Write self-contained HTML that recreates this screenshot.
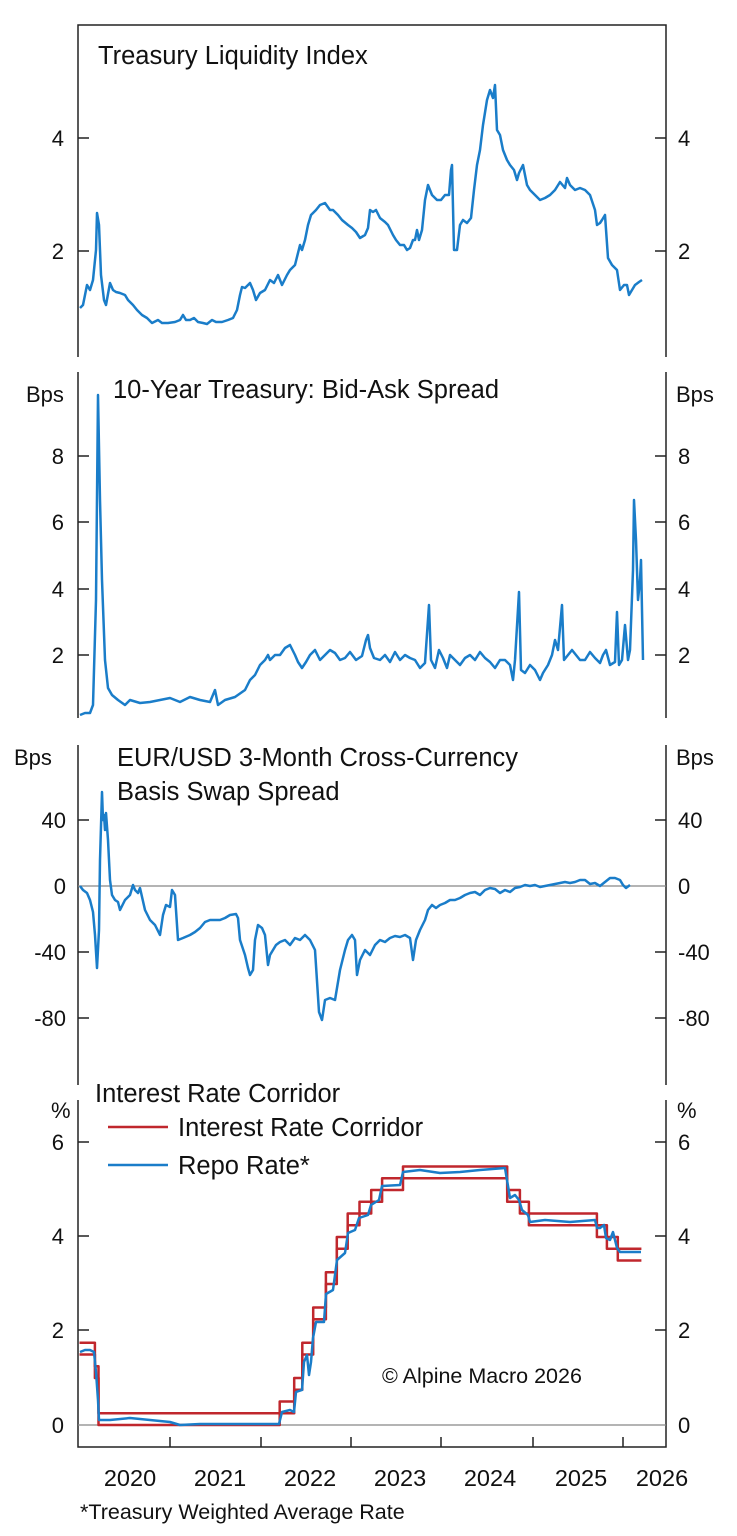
<!DOCTYPE html>
<html><head><meta charset="utf-8"><style>
body{margin:0;background:#fff}
svg{display:block}
text{font-family:"Liberation Sans",Arial,sans-serif;fill:#111}
.t{font-size:25.5px}.k{font-size:22px}.y{font-size:23.5px}
</style></head><body>
<svg width="737" height="1536" viewBox="0 0 737 1536" xmlns="http://www.w3.org/2000/svg">
<g stroke="#222" stroke-width="1.5" fill="none">
<path d="M78,357V25H666V357"/>
<path d="M78,372V718M666,372V718"/>
<path d="M78,745V1085M666,745V1085"/>
<path d="M78,1100V1447H666V1100"/>
<path d="M78,138h11M78,251h11M666,138h-11M666,251h-11"/>
<path d="M78,456h11M78,522h11M78,589h11M78,655h11M666,456h-11M666,522h-11M666,589h-11M666,655h-11"/>
<path d="M78,820h11M78,952h11M78,1018h11M666,820h-11M666,952h-11M666,1018h-11"/>
<path d="M78,1142h11M78,1236h11M78,1330h11M666,1142h-11M666,1236h-11M666,1330h-11"/>
<path d="M170,1447v-10M261,1447v-10M351,1447v-10M441,1447v-10M533,1447v-10M623,1447v-10"/>
</g>
<g stroke="#888" stroke-width="1.2"><path d="M78,886H666M78,1425H666"/></g>
<g class="k">
<text x="64" y="146" text-anchor="end">4</text><text x="64" y="259" text-anchor="end">2</text>
<text x="678" y="146">4</text><text x="678" y="259">2</text>
<text x="26" y="402">Bps</text><text x="676" y="402">Bps</text>
<text x="64" y="464" text-anchor="end">8</text><text x="64" y="530" text-anchor="end">6</text><text x="64" y="597" text-anchor="end">4</text><text x="64" y="663" text-anchor="end">2</text>
<text x="678" y="464">8</text><text x="678" y="530">6</text><text x="678" y="597">4</text><text x="678" y="663">2</text>
<text x="14" y="765">Bps</text><text x="676" y="765">Bps</text>
<text x="66" y="828" text-anchor="end">40</text><text x="66" y="894" text-anchor="end">0</text><text x="66" y="960" text-anchor="end">-40</text><text x="66" y="1026" text-anchor="end">-80</text>
<text x="678" y="828">40</text><text x="678" y="894">0</text><text x="678" y="960">-40</text><text x="678" y="1026">-80</text>
<text x="51" y="1118">%</text><text x="677" y="1118">%</text>
<text x="64" y="1150" text-anchor="end">6</text><text x="64" y="1244" text-anchor="end">4</text><text x="64" y="1338" text-anchor="end">2</text><text x="64" y="1433" text-anchor="end">0</text>
<text x="678" y="1150">6</text><text x="678" y="1244">4</text><text x="678" y="1338">2</text><text x="678" y="1433">0</text>
</g>
<g class="y">
<text x="130" y="1486" text-anchor="middle">2020</text><text x="220" y="1486" text-anchor="middle">2021</text><text x="310" y="1486" text-anchor="middle">2022</text><text x="400" y="1486" text-anchor="middle">2023</text><text x="490" y="1486" text-anchor="middle">2024</text><text x="581" y="1486" text-anchor="middle">2025</text><text x="662" y="1486" text-anchor="middle">2026</text>
</g>
<text class="t" x="98" y="64">Treasury Liquidity Index</text>
<text class="t" x="113" y="398">10-Year Treasury: Bid-Ask Spread</text>
<text class="t" x="117" y="766">EUR/USD 3-Month Cross-Currency</text>
<text class="t" x="117" y="800">Basis Swap Spread</text>
<text class="t" x="95" y="1102">Interest Rate Corridor</text>
<text class="t" x="178" y="1136">Interest Rate Corridor</text>
<text class="t" x="178" y="1174">Repo Rate*</text>
<text x="382" y="1383" style="font-size:21.5px">© Alpine Macro 2026</text>
<text x="80" y="1519" style="font-size:21.5px">*Treasury Weighted Average Rate</text>
<g fill="none" stroke-width="2.5" stroke-linejoin="round">
<path stroke="#c0272d" d="M108,1127H168"/>
<path stroke="#1a7dc9" d="M108,1165H168"/>
<polyline stroke="#1a7dc9" points="80,308 83,305 87,285 90,290 93,280 96,250 97,213 99,225 101,275 104,300 106,305 110,283 113,290 116,292 120,293 125,295 128,300 133,305 137,310 142,315 147,318 152,323 158,320 162,323 168,323 175,322 180,320 183,315 186,320 190,320 194,318 198,322 203,323 207,324 212,320 216,322 222,322 228,320 233,318 237,310 240,295 242,287 245,288 250,283 253,290 256,300 260,293 265,290 270,280 274,283 278,275 282,285 287,275 290,270 295,265 300,245 302,250 305,240 308,225 311,215 316,210 320,205 325,203 330,210 333,210 338,215 342,220 348,225 352,228 356,232 360,238 365,235 368,228 370,210 373,212 376,210 380,218 385,222 388,225 393,235 396,240 400,245 404,245 407,250 410,248 413,240 415,240 417,230 419,240 422,230 425,200 428,185 432,195 437,200 441,200 445,195 449,195 451,170 452,165 454,250 457,250 460,225 463,220 467,223 471,218 474,190 477,165 480,150 483,125 487,100 490,90 493,98 495,85 497,130 500,135 503,150 507,160 510,165 514,170 517,180 519,173 523,165 527,185 530,190 535,195 540,200 545,198 550,195 555,190 560,182 565,188 567,178 570,185 575,190 580,188 585,190 590,195 595,210 597,225 600,223 602,220 605,215 608,258 612,265 617,270 620,290 624,285 627,285 629,295 632,290 635,285 639,282 642,280"/>
<polyline stroke="#1a7dc9" points="80,715 85,713 90,713 93,705 96,600 98,395 100,500 102,580 105,660 108,688 112,695 118,700 125,705 130,700 140,703 150,702 160,700 170,698 180,702 190,697 200,700 210,702 215,690 218,705 225,700 235,697 245,690 250,680 255,675 260,665 265,660 268,655 270,660 275,655 280,655 285,648 290,645 295,655 298,662 302,668 306,662 310,655 315,650 320,660 325,655 330,650 335,653 340,660 345,658 350,652 356,660 362,656 366,640 368,635 370,648 374,658 380,660 385,655 390,662 395,652 400,660 405,655 410,658 415,660 420,668 425,663 429,605 431,660 435,668 439,650 443,658 447,668 450,655 455,660 460,665 465,658 470,655 475,660 480,652 485,658 490,662 495,668 500,660 505,660 510,665 513,680 515,660 519,592 521,670 525,673 530,665 535,670 540,680 543,673 548,665 552,655 555,640 558,650 562,605 564,660 568,655 572,650 576,655 580,660 585,660 590,652 595,658 600,663 603,655 606,650 610,665 615,662 617,612 619,665 622,660 625,625 628,660 630,650 633,570 634,500 636,540 638,600 640,580 641,560 643,660"/>
<polyline stroke="#1a7dc9" points="80,886 83,890 87,893 90,900 93,912 95,935 97,968 99,930 100,860 102,792 103,820 104,815 105,830 106,813 108,840 110,880 112,895 115,900 118,902 120,910 125,900 130,895 133,885 135,890 138,893 140,888 145,910 150,920 155,925 160,935 163,915 166,905 170,907 172,890 175,895 178,940 183,938 190,935 195,932 200,928 205,922 210,920 220,920 225,918 230,915 236,914 238,918 240,940 245,955 248,968 250,975 253,970 255,940 258,925 262,928 265,935 268,965 270,955 273,950 276,945 280,942 285,940 290,945 295,938 300,940 305,935 310,940 315,950 319,1012 322,1020 325,1000 330,998 335,1000 340,970 345,950 348,940 352,935 355,940 357,975 360,960 365,950 370,955 375,945 380,940 385,942 390,938 395,936 400,937 405,935 410,938 413,960 416,940 420,930 425,920 428,910 432,905 436,908 440,905 445,903 450,900 455,900 460,898 465,895 470,893 475,892 480,895 485,890 490,888 495,889 500,893 505,890 510,892 515,888 520,887 525,885 530,886 535,885 540,887 545,886 550,885 555,884 560,883 565,882 570,883 575,882 580,880 585,880 590,884 595,883 600,886 605,882 610,878 615,878 620,880 623,885 626,888 630,885"/>
<path stroke="#c0272d" d="M79.5,1342.75H94.9V1366.25H98.5V1413.25H279.7V1401.5H294.2V1378H302.3V1342.75H313.2V1307.5H325.9V1272.25H336.8V1237H347.7V1213.5H359.5V1201.75H371.2V1190H382.1V1178.25H403V1166.5H507.2V1190H519.9V1201.75H528.9V1213.5H596.9V1225.25H606.9V1237H617.8V1248.75H641.4"/>
<path stroke="#c0272d" d="M79.5,1354.5H94.9V1378H98.5V1425H279.7V1413.25H294.2V1389.75H302.3V1354.5H313.2V1319.25H325.9V1284H336.8V1248.75H347.7V1225.25H359.5V1213.5H371.2V1201.75H382.1V1190H403V1178.25H507.2V1201.75H519.9V1213.5H528.9V1225.25H596.9V1237H606.9V1248.75H617.8V1260.5H641.4"/>
<polyline stroke="#1a7dc9" points="80,1352 85,1350 90,1350 94,1352 96,1372 98,1400 99,1420 110,1420 130,1418 150,1420 170,1422 180,1425 200,1424 220,1424 240,1424 279,1424 282,1412 290,1410 294,1412 296,1392 302,1390 304,1362 307,1355 309,1375 311,1362 313,1338 316,1322 324,1322 326,1294 333,1290 337,1260 345,1253 348,1233 355,1230 359,1218 368,1215 371,1205 379,1200 382,1186 400,1185 403,1172 420,1170 440,1173 460,1172 480,1170 505,1168 507,1180 510,1198 515,1195 519,1200 522,1210 528,1215 530,1222 545,1220 570,1222 595,1220 597,1228 600,1228 604,1225 606,1238 610,1240 613,1232 617,1248 620,1252 641,1252"/>
</g>
</svg>
</body></html>
